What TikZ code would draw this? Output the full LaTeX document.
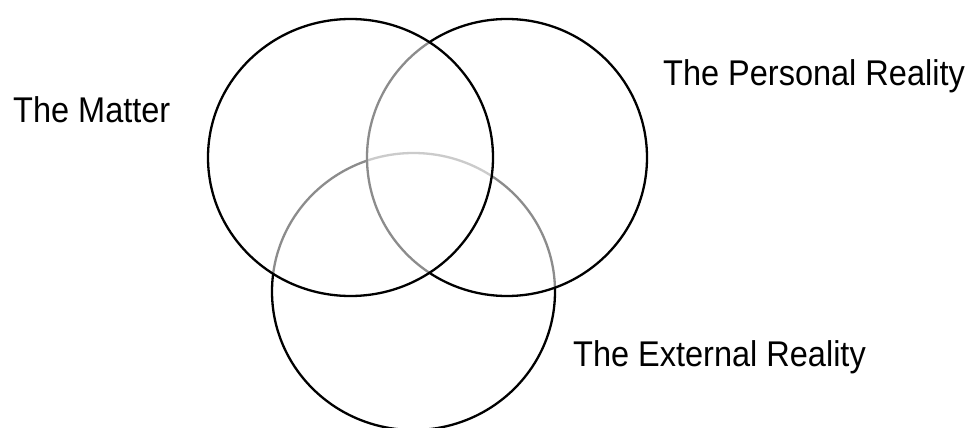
\documentclass[tikz,border=0pt]{standalone}
\usepackage{fontspec}
\setmainfont{Liberation Sans}
\begin{document}
\begin{tikzpicture}[x=1pt,y=-1pt,
  venn/.style={draw=black,line width=2.3pt,fill=white,fill opacity=0.55},
  lbl/.style={anchor=base west,inner sep=0pt,font=\fontsize{32.5}{36}\selectfont,yscale=1.1}]
\useasboundingbox (0,0) rectangle (970,428);
\clip (0,0) rectangle (970,428);
\fill[white] (0,0) rectangle (970,428);
\draw[venn] (413.5,291.5) ellipse [x radius=141.5, y radius=138.5];
\draw[venn] (507,157.5) ellipse [x radius=140, y radius=138.5];
\draw[venn] (350.5,157.5) ellipse [x radius=142.5, y radius=138.5];
\node[lbl] (matter) at (13,122) {The Matter};
\node[lbl] (personal) at (663,85) {The Personal Reality};
\node[lbl] (external) at (573,366) {The External Reality};
\end{tikzpicture}
\end{document}
